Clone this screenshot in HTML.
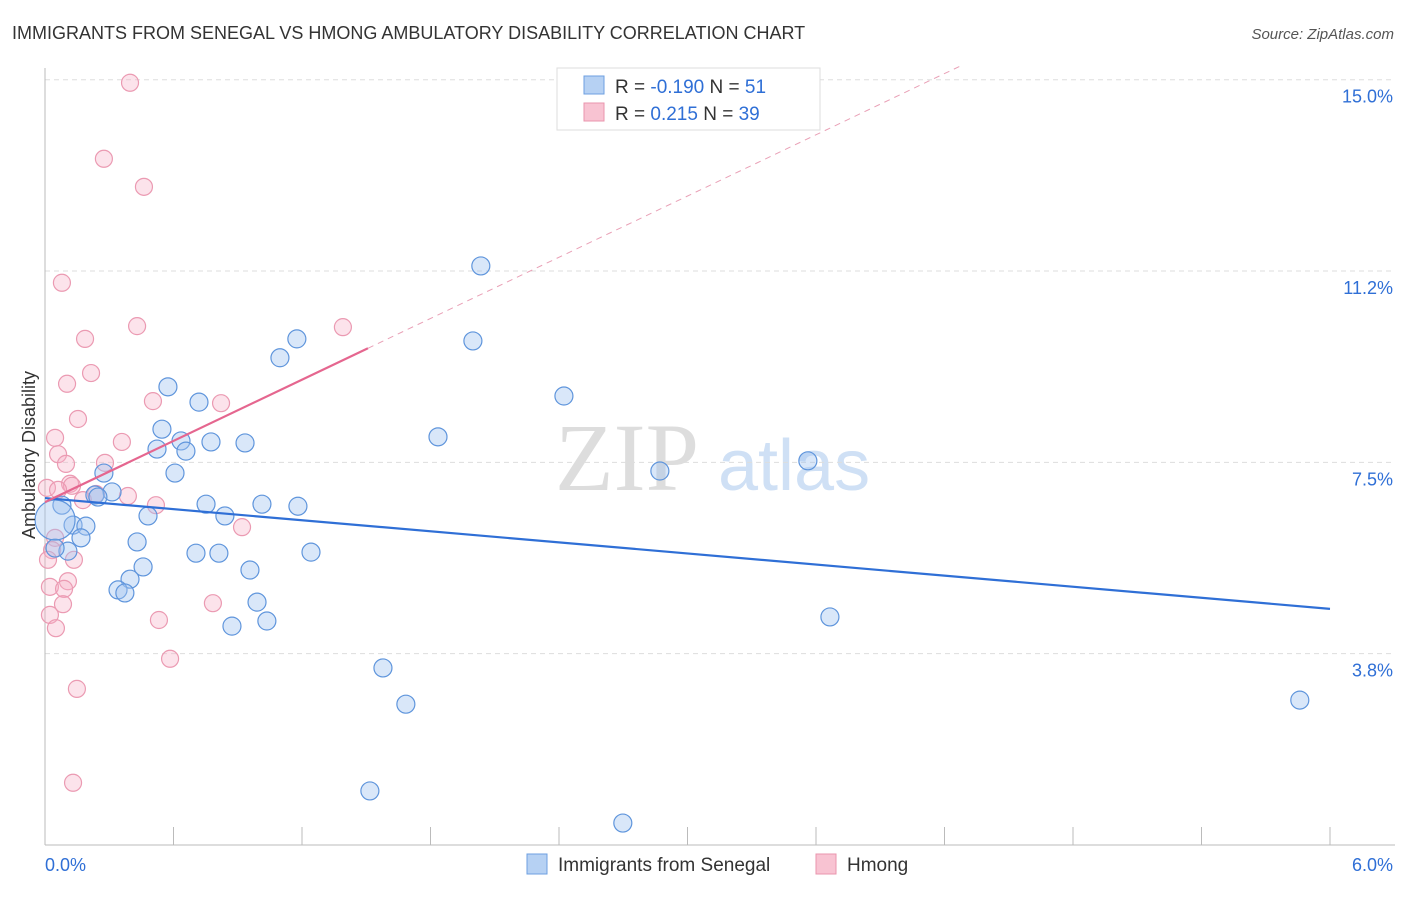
<!DOCTYPE html>
<html><head><meta charset="utf-8"><style>
body{margin:0;background:#fff;font-family:"Liberation Sans",sans-serif;}
</style></head><body>
<svg id="c" width="1406" height="892" xmlns="http://www.w3.org/2000/svg">
<text x="12" y="39" font-size="18" fill="#333">IMMIGRANTS FROM SENEGAL VS HMONG AMBULATORY DISABILITY CORRELATION CHART</text>
<text x="1394" y="39" font-size="15" fill="#555" text-anchor="end" font-style="italic">Source: ZipAtlas.com</text>
<text x="555" y="490" font-size="96" fill="#ddd" font-family="Liberation Serif,serif">ZIP</text>
<text x="718" y="490" font-size="72" fill="#cfe0f5">atlas</text>
<g id="grid"></g><g id="axes"></g><g id="pts"></g><g id="lines"></g>
<g>
<rect x="557" y="68" width="263" height="62" fill="#fff" stroke="#ddd"/>
<rect x="584" y="76" width="20" height="18" fill="#b6d1f3" stroke="#6d9fe0"/>
<rect x="584" y="103" width="20" height="18" fill="#f8c3d2" stroke="#ea94ad"/>
<text x="615" y="93" font-size="19" fill="#333">R = <tspan fill="#2f6fd6">-0.190</tspan>   N = <tspan fill="#2f6fd6">51</tspan></text>
<text x="615" y="120" font-size="19" fill="#333">R =   <tspan fill="#2f6fd6">0.215</tspan>   N = <tspan fill="#2f6fd6">39</tspan></text>
</g>
<g>
<rect x="527" y="854" width="20" height="20" fill="#b6d1f3" stroke="#6d9fe0"/>
<text x="558" y="871" font-size="19" fill="#333">Immigrants from Senegal</text>
<rect x="816" y="854" width="20" height="20" fill="#f8c3d2" stroke="#ea94ad"/>
<text x="847" y="871" font-size="19" fill="#333">Hmong</text>
</g>
<text transform="translate(35,455) rotate(-90)" font-size="18" fill="#333" text-anchor="middle">Ambulatory Disability</text>
</svg>
<script>
const yTicks=[3.75,7.5,11.25,15];
const yTickLabels=["3.8%","7.5%","11.2%","15.0%"];
const xTickLabels=["0.0%","6.0%"];
const blueX=[2.035,1.176,1.998,1.097,0.574,2.423,0.719,1.835,0.546,0.635,0.775,0.934,0.523,0.658,3.562,2.871,0.607,0.275,0.313,0.233,0.247,0.079,0.752,1.013,1.181,0.481,0.840,0.131,0.191,0.168,0.430,0.107,0.047,0.705,0.812,1.242,0.957,0.458,0.397,0.341,0.373,0.990,1.036,0.873,3.665,1.578,1.685,5.859,1.517,2.698,0.047];
const blueY=[11.35,9.92,9.88,9.55,8.98,8.80,8.68,8.00,8.15,7.92,7.90,7.88,7.76,7.72,7.53,7.33,7.29,7.29,6.92,6.86,6.82,6.66,6.68,6.68,6.64,6.45,6.45,6.27,6.25,6.02,5.94,5.76,5.82,5.72,5.72,5.74,5.39,5.45,5.21,5.00,4.94,4.76,4.39,4.29,4.47,3.47,2.76,2.84,1.06,0.43,6.37];
const pinkX=[0.397,0.275,0.462,0.079,0.430,1.391,0.187,0.215,0.103,0.504,0.822,0.154,0.359,0.047,0.061,0.098,0.280,0.117,0.126,0.009,0.061,0.238,0.177,0.518,0.387,0.920,0.047,0.033,0.135,0.014,0.107,0.023,0.089,0.084,0.784,0.023,0.532,0.051,0.584,0.149,0.131];
const pinkY=[14.94,13.45,12.90,11.02,10.17,10.15,9.92,9.25,9.04,8.70,8.66,8.35,7.90,7.98,7.66,7.47,7.49,7.08,7.04,7.00,6.96,6.88,6.76,6.66,6.84,6.23,6.02,5.78,5.59,5.59,5.17,5.06,5.02,4.72,4.74,4.51,4.41,4.25,3.65,3.06,1.22];
const blueTrend=[6.80,-0.362];
const pinkTrend=[6.72,2.0];
const NS="http://www.w3.org/2000/svg";
const X0=45,X1=1330,Y0=845,YS=51.02;
const sx=v=>X0+(X1-X0)*v/6, sy=v=>Y0-YS*v;
function mk(t,a,p){const e=document.createElementNS(NS,t);for(const k in a)e.setAttribute(k,a[k]);p.appendChild(e);return e;}
const grid=document.getElementById('grid'),axes=document.getElementById('axes');
yTicks.forEach((v,i)=>{
 const l=mk('line',{x1:X0,x2:1395,y1:sy(v),y2:sy(v),stroke:'#ddd','stroke-dasharray':'5,4'},grid);
 
 
 const t=mk('text',{x:1393,y:sy(v)+23,'font-size':18,fill:'#2f6fd6','text-anchor':'end'},axes);
 t.textContent=yTickLabels[i];
 
 
});
const ax=mk('line',{x1:X0,x2:X0,y1:68,y2:Y0,stroke:'#bbb'},axes);


const bx=mk('line',{x1:X0,x2:1395,y1:Y0,y2:Y0,stroke:'#bbb'},axes);


for(let i=0;i<=10;i++){const tk=mk('line',{x1:sx(i*0.6),x2:sx(i*0.6),y1:Y0,y2:Y0-18,stroke:'#bbb'},axes);
 
 }
[[0,45,'start'],[6,1393,'end']].forEach((d,i)=>{const t=mk('text',{x:d[1],y:871,'font-size':18,fill:'#2f6fd6','text-anchor':d[2]},axes);t.textContent=xTickLabels[i];
 
 });
const pts=document.getElementById('pts');
pinkX.forEach((x,i)=>{const c=mk('circle',{cx:sx(x),cy:sy(pinkY[i]),r:8.5,fill:'rgba(246,176,197,0.35)',stroke:'#eb9ab2','stroke-width':1.2},pts);
 
 });
blueX.forEach((x,i)=>{const big=i===blueX.length-1;const c=mk('circle',{cx:sx(x),cy:sy(blueY[i]),r:big?20:9,fill:'rgba(160,196,240,0.4)',stroke:'#5f95dc','stroke-width':1.2},pts);
 
 });
const lines=document.getElementById('lines');
const bl=mk('line',{x1:sx(0),y1:sy(blueTrend[0]),x2:sx(6),y2:sy(blueTrend[0]+6*blueTrend[1]),stroke:'#2f6fd6','stroke-width':2.2},lines);


const pe=1.508, pd=(15.3-pinkTrend[0])/pinkTrend[1];
const pl=mk('line',{x1:sx(0),y1:sy(pinkTrend[0]),x2:sx(pe),y2:sy(pinkTrend[0]+pe*pinkTrend[1]),stroke:'#e5668f','stroke-width':2.2},lines);


const pdl=mk('line',{x1:sx(pe),y1:sy(pinkTrend[0]+pe*pinkTrend[1]),x2:sx(pd),y2:sy(15.3),stroke:'#e9a0b6','stroke-width':1,'stroke-dasharray':'6,5'},lines);


</script>
</body></html>
